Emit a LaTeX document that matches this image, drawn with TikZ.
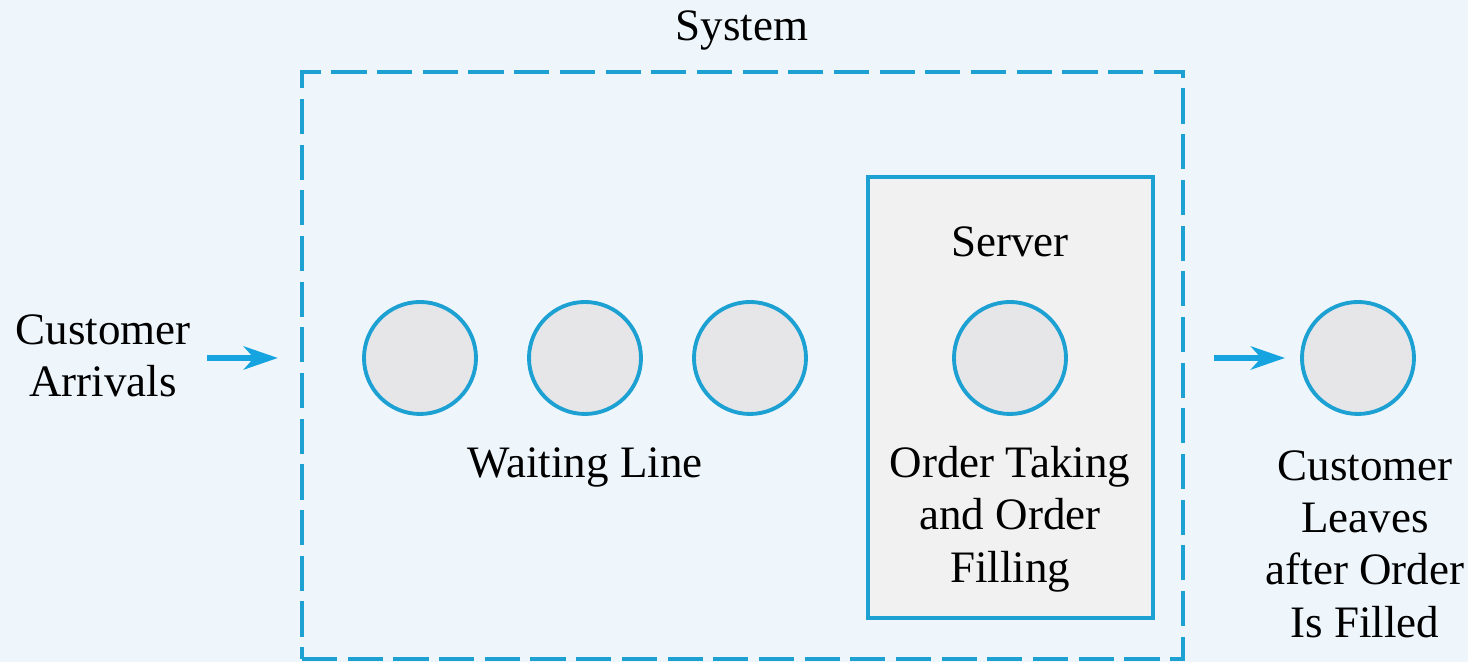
\documentclass[tikz,border=0pt]{standalone}
\usepackage{fontspec}
\setmainfont{Liberation Serif}
\usetikzlibrary{arrows.meta,positioning}

\definecolor{qline}{HTML}{1DA0D2}
\definecolor{qarrow}{HTML}{16A4E0}
\definecolor{qback}{HTML}{EEF6FC}
\definecolor{qcust}{HTML}{E6E6E8}
\definecolor{qserv}{HTML}{F1F1F2}

\tikzset{
  cust/.style={circle,draw=qline,line width=1.1pt,fill=qcust,minimum size=1.12cm,inner sep=0pt},
  sysbox/.style={draw=qline,line width=1.2pt,dash pattern=on 10pt off 3pt,inner sep=0pt},
  servbox/.style={draw=qline,line width=1.1pt,fill=qserv,inner sep=0pt},
  flow/.style={qarrow,line width=1.8pt,-{Stealth[length=0.34cm,width=0.23cm,inset=0.1cm]}},
  lbl/.style={align=center,inner sep=1pt}
}

\begin{document}
\begin{tikzpicture}[>=Stealth,font=\fontsize{12.8}{14.9}\selectfont]
  \fill[qback] (0,0) rectangle (14.68,6.62);
  \useasboundingbox (0,0) rectangle (14.68,6.62);
  % system boundary and server box
  \node[sysbox,minimum width=8.81cm,minimum height=5.87cm] (system) at (7.425,2.965) {};
  \node[servbox,minimum width=2.85cm,minimum height=4.41cm] (server) at (10.105,2.645) {};
  \node[lbl] (systxt) at (7.42,6.32) {System};
  \node[lbl] (servtxt) at (10.10,4.20) {Server};
  % customers in line, in service, leaving
  \node[cust] (c1) at (4.20,3.04) {};
  \node[cust] (c2) at (5.85,3.04) {};
  \node[cust] (c3) at (7.50,3.04) {};
  \node[cust] (cs) at (10.10,3.04) {};
  \node[cust] (done) at (13.58,3.04) {};
  \node[lbl] (waittxt) at (5.85,1.95) {Waiting Line};
  \node[lbl] (filltxt) at (10.10,1.43) {Order Taking\\and Order\\Filling};
  \node[lbl] (arrivals) at (1.03,3.06) {Customer\\Arrivals};
  \node[lbl] (leaves) at (13.65,1.18) {Customer\\Leaves\\after Order\\Is Filled};
  % arrivals in, departures out
  \coordinate (inA) at (2.07,3.04);
  \coordinate (outA) at (12.14,3.04);
  \draw[flow,shorten >=0.22cm] (inA) -- (system.west |- inA);
  \draw[flow,shorten >=0.15cm] (outA) -- (done);
\end{tikzpicture}
\end{document}
